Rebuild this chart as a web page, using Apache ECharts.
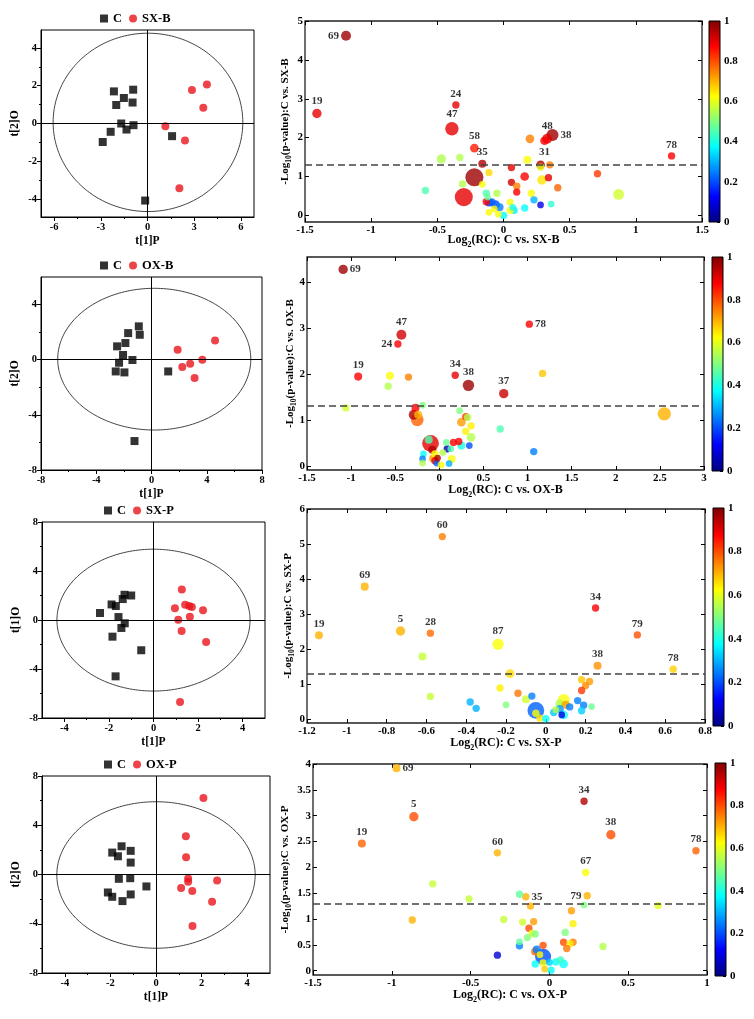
<!DOCTYPE html>
<html><head><meta charset="utf-8">
<script src="https://cdn.jsdelivr.net/npm/echarts@6/dist/echarts.min.js"></script>
<style>html,body{margin:0;padding:0;background:#fff}#c{width:754px;height:1019px}</style>
</head><body><div id="c"></div>
<script>
// ---------------- DATA ----------------
const groups = ['SX-B', 'OX-B', 'SX-P', 'OX-P'];
const scoreXName = 't[1]P';
const scoreYNames = ['t[2]O', 't[2]O', 't[1]O', 't[2]O'];

// OPLS-DA score plots: [t[1]P, t[2]O]
const scoreC1 = [[-2.16,1.7],[-0.92,1.79],[-1.52,1.35],[-2.01,0.98],[-0.96,1.11],[-1.69,0],[-1.35,-0.32],[-0.9,-0.09],[-2.37,-0.44],[-2.88,-0.98],[1.58,-0.67],[-0.15,-4.08]];
const scoreT1 = [[2.86,1.78],[3.82,2.06],[3.59,0.83],[1.15,-0.14],[2.41,-0.9],[2.05,-3.43]];
const scoreC2 = [[-0.92,2.42],[-0.85,1.81],[-1.69,1.93],[-1.89,1.21],[-2.49,0.97],[-2.06,0.34],[-1.38,-0.02],[-2.35,-0.22],[-2.59,-0.85],[-1.96,-0.92],[1.21,-0.85],[-1.23,-5.9]];
const scoreT2 = [[1.89,0.73],[4.6,1.4],[3.68,0],[2.8,-0.29],[2.23,-0.53],[3.12,-1.33]];
const scoreC3 = [[-1.3,2.06],[-1.0,2.0],[-1.38,1.71],[-1.88,1.27],[-1.69,1.14],[-2.4,0.57],[-1.57,0.24],[-1.29,-0.27],[-1.44,-0.65],[-1.84,-1.36],[-0.55,-2.47],[-1.7,-4.6]];
const scoreT3 = [[1.27,2.49],[1.42,1.25],[1.6,1.14],[1.72,1.06],[0.96,0.95],[2.22,0.79],[1.63,0.27],[1.11,0.03],[1.26,-0.89],[2.36,-1.79],[1.19,-6.69]];
const scoreC4 = [[-1.51,2.29],[-1.92,1.78],[-1.67,1.48],[-1.11,1.92],[-1.11,0.97],[-1.63,-0.35],[-1.13,-0.3],[-0.42,-0.97],[-2.11,-1.46],[-1.92,-1.81],[-1.11,-1.62],[-1.47,-2.16]];
const scoreT4 = [[2.08,6.21],[1.31,3.1],[1.32,1.4],[1.41,-0.32],[1.41,-0.59],[1.1,-1.1],[1.59,-1.35],[2.68,-0.49],[2.46,-2.21],[1.6,-4.18]];

// Hotelling T2 ellipses: [cx, cy, rx, ry]
const ellipse1 = [0.03, 0.06, 6.1, 4.72];
const ellipse2 = [0.2, 0.04, 6.99, 5.14];
const ellipse3 = [0.0, -0.01, 4.33, 5.79];
const ellipse4 = [0.0, -0.04, 4.35, 5.95];

const scoreXRange = [[-6.85,6.85],[-8,8],[-5,5],[-5,5]];
const scoreYRange = [[-4.95,4.95],[-8,6],[-8,8],[-8,8]];
const scoreXTicks = [[-6,-3,0,3,6],[-8,-4,0,4,8],[-4,-2,0,2,4],[-4,-2,0,2,4]];
const scoreXMinor = [[-4.5,-1.5,1.5,4.5],[-6,-2,2,6],[-3,-1,1,3],[-3,-1,1,3]];
const scoreYTicks = [[-4,-2,0,2,4],[-8,-4,0,4],[-8,-4,0,4,8],[-8,-4,0,4,8]];
const scoreYMinor = [[-3,-1,1,3],[-6,-2,2],[-6,-2,2,6],[-6,-2,2,6]];

// Volcano bubbles: [log2(RC), -log10(p), bubble weight, colour value (0-1), id]
const volc1 = [
 [-1.19,4.62,1.5,0.97,'69'],[-1.41,2.62,1.4,0.9,'19'],[-0.36,2.84,1.1,0.9,'24'],[-0.39,2.23,2.0,0.9,'47'],
 [-0.22,1.73,1.3,0.85,'58'],[-0.16,1.33,1.2,0.95,'35'],[0.33,1.97,1.5,0.9,'48'],[0.37,2.07,1.8,0.97,'38'],
 [0.31,1.92,1.3,0.88,'31'],[1.27,1.53,1.1,0.88,'78'],
 [0.2,1.97,1.3,0.75],[-0.47,1.45,1.4,0.55],[-0.33,1.49,1.1,0.55],[-0.22,0.98,2.7,0.97],[-0.3,0.47,2.7,0.9],
 [-0.31,0.81,1.1,0.55],[-0.59,0.64,1.1,0.45],[-0.11,1.1,1.1,0.66],[-0.16,0.8,1.0,0.62],[0.06,1.23,1.1,0.9],
 [0.06,0.85,1.1,0.92],[0.16,1.0,1.3,0.88],[0.18,1.43,1.2,0.62],[0.28,1.3,1.3,0.95],[0.28,1.24,1.1,0.6],
 [0.35,1.3,1.1,0.75],[0.34,0.97,1.1,0.9],[0.29,0.91,1.4,0.65],[0.41,0.71,1.1,0.78],[0.71,1.07,1.1,0.82],
 [0.87,0.54,1.6,0.58],[0.1,0.75,1.1,0.75],[0.1,0.6,1.1,0.88],[0.21,0.57,1.1,0.62],[0.23,0.4,1.1,0.3],
 [0.28,0.27,1.0,0.1],[0.36,0.29,1.0,0.42],[0.16,0.19,1.1,0.38],[0.08,0.13,1.1,0.36],[0.0,0.0,1.1,0.38],
 [-0.04,0.03,1.0,0.62],[-0.11,0.08,1.0,0.63],[-0.07,0.17,1.0,0.63],[-0.05,0.57,1.1,0.55],[-0.13,0.57,1.1,0.45],
 [-0.12,0.47,1.0,0.48],[-0.13,0.35,1.1,0.88],[-0.11,0.33,1.2,0.18],[-0.06,0.28,1.3,0.2],[-0.09,0.34,1.2,0.22],
 [-0.03,0.21,1.2,0.25],[0.05,0.13,1.1,0.62],[0.05,0.34,1.0,0.62],[0.07,0.21,1.0,0.4]
];
const volc2 = [
 [-1.09,4.27,1.4,0.97,'69'],[-0.43,2.85,1.5,0.92,'47'],[-0.47,2.65,1.1,0.88,'24'],[1.02,3.08,1.1,0.88,'78'],
 [-0.92,1.94,1.2,0.88,'19'],[0.18,1.97,1.1,0.9,'34'],[0.33,1.75,1.7,0.97,'38'],[0.73,1.57,1.4,0.93,'37'],
 [-0.56,1.96,1.2,0.62],[-0.35,1.93,1.1,0.75],[-0.58,1.73,1.1,0.55],[-1.06,1.26,1.1,0.58],[1.17,2.01,1.1,0.68],
 [2.55,1.13,2.0,0.7],[0.69,0.8,1.1,0.45],[1.07,0.31,1.1,0.25],[-0.19,1.32,1.0,0.5],[-0.27,1.26,1.2,0.88],
 [-0.29,1.11,1.5,0.95],[-0.25,1.0,1.9,0.78],[-0.24,1.11,1.2,0.7],[0.23,1.2,1.0,0.5],[0.3,1.07,1.1,0.82],
 [0.32,1.05,1.1,0.55],[0.25,0.95,1.3,0.72],[0.36,0.87,1.1,0.64],[0.3,0.75,1.1,0.64],[0.36,0.62,1.3,0.55],
 [0.22,0.53,1.1,0.88],[0.16,0.51,1.1,0.88],[0.08,0.51,1.0,0.48],[0.25,0.44,1.2,0.4],[0.34,0.44,1.0,0.2],
 [0.09,0.37,1.1,0.05],[0.13,0.37,1.0,0.45],[0.14,0.15,1.2,0.62],[0.11,0.05,1.0,0.3],[-0.1,0.49,2.5,0.9],
 [-0.12,0.57,1.2,0.45],[-0.08,0.35,1.2,0.95],[-0.18,0.26,1.0,0.38],[-0.19,0.15,1.0,0.25],[-0.19,0.06,1.0,0.55],
 [-0.07,0.16,1.2,0.72],[-0.05,0.26,1.1,0.62],[-0.05,0.11,1.1,0.88],[-0.03,0.06,1.0,0.22],[0.02,0.02,1.0,0.62],
 [-0.02,0.17,1.0,0.95],[0.04,0.29,1.0,0.55]
];
const volc3 = [
 [-0.52,5.21,1.1,0.75,'60'],[-0.91,3.78,1.2,0.7,'69'],[-1.14,2.39,1.2,0.7,'19'],[-0.73,2.51,1.4,0.7,'5'],
 [-0.58,2.45,1.1,0.77,'28'],[-0.24,2.13,1.7,0.62,'87'],[0.25,3.17,1.1,0.88,'34'],[0.46,2.4,1.1,0.8,'79'],
 [0.26,1.52,1.2,0.73,'38'],[0.64,1.42,1.1,0.67,'78'],
 [-0.62,1.78,1.2,0.57],[-0.18,1.29,1.3,0.66],[-0.58,0.64,1.1,0.57],[-0.23,0.88,1.1,0.64],[-0.14,0.73,1.1,0.76],
 [-0.07,0.65,1.1,0.25],[-0.1,0.56,1.2,0.58],[-0.2,0.4,1.0,0.5],[-0.38,0.48,1.1,0.3],[-0.35,0.3,1.1,0.3],
 [0.18,1.12,1.1,0.68],[0.22,1.07,1.1,0.72],[0.2,0.95,1.1,0.74],[0.18,0.81,1.1,0.82],[0.16,0.52,1.1,0.25],
 [0.19,0.39,1.1,0.25],[0.18,0.23,1.1,0.33],[0.23,0.35,1.0,0.48],[-0.05,0.24,2.5,0.22],[-0.05,0.16,1.1,0.62],
 [-0.03,0.02,1.1,0.65],[0.0,0.0,1.1,0.38],[0.09,0.54,1.8,0.62],[0.07,0.43,1.3,0.55],[0.1,0.4,1.2,0.72],
 [0.07,0.28,1.2,0.28],[0.04,0.18,1.1,0.32],[0.09,0.11,1.3,0.38],[0.12,0.34,1.1,0.25],[0.08,0.11,1.0,0.1],
 [0.05,0.26,1.0,0.55]
];
const volc4 = [
 [-0.97,3.92,1.2,0.7,'69'],[-0.86,2.98,1.4,0.8,'5'],[-1.19,2.46,1.2,0.78,'19'],[-0.33,2.28,1.1,0.7,'60'],
 [0.22,3.28,1.1,0.95,'34'],[0.39,2.63,1.4,0.8,'38'],[0.93,2.32,1.1,0.78,'78'],[0.23,1.9,1.1,0.62,'67'],
 [0.24,1.45,1.1,0.7,'79'],[-0.15,1.43,1.1,0.7,'35'],
 [-0.74,1.68,1.1,0.57],[-0.51,1.39,1.1,0.57],[-0.87,0.98,1.1,0.7],[-0.29,0.99,1.1,0.57],[-0.19,1.48,1.1,0.47],
 [-0.12,1.25,1.1,0.7],[0.69,1.26,1.1,0.6],[0.22,1.27,1.0,0.5],[0.14,1.16,1.1,0.72],[0.15,0.91,1.1,0.64],
 [-0.17,0.94,1.1,0.58],[-0.1,0.95,1.1,0.72],[-0.13,0.82,1.1,0.8],[-0.11,0.72,1.1,0.6],[-0.09,0.71,1.1,0.5],
 [-0.14,0.64,1.1,0.5],[-0.19,0.56,1.0,0.47],[-0.19,0.48,1.1,0.25],[-0.33,0.3,1.1,0.08],[0.1,0.74,1.1,0.5],
 [0.09,0.55,1.1,0.8],[0.15,0.55,1.1,0.75],[0.13,0.52,1.1,0.64],[0.11,0.43,1.1,0.76],[0.34,0.47,1.1,0.55],
 [-0.04,0.49,1.1,0.8],[-0.09,0.37,1.2,0.78],[-0.08,0.41,1.2,0.25],[-0.04,0.27,2.4,0.2],[-0.04,0.15,1.1,0.62],
 [-0.09,0.13,1.1,0.38],[-0.03,0.03,1.0,0.68],[0.01,0.01,1.1,0.38],[0.04,0.17,1.1,0.38],[0.09,0.13,1.3,0.38],
 [0.07,0.21,1.1,0.43],[0.0,0.16,1.0,0.33],[-0.06,0.31,1.0,0.62]
];
const labelSide1 = {'69':'left','38':'right','31':'bottom'};
const labelSide2 = {'69':'right','24':'left','78':'right'};
const labelSide3 = {};
const labelSide4 = {'69':'right','79':'left','35':'right'};

const volcXRange = [[-1.5,1.5],[-1.5,3],[-1.2,0.8],[-1.5,1]];
const volcYRange = [[-0.17,5],[-0.09,4.54],[-0.12,6],[-0.084,4]];
const volcXTicks = [[-1.5,-1,-0.5,0,0.5,1,1.5],[-1.5,-1,-0.5,0,0.5,1,1.5,2,2.5,3],[-1.2,-1,-0.8,-0.6,-0.4,-0.2,0,0.2,0.4,0.6,0.8],[-1.5,-1,-0.5,0,0.5,1]];
const volcYTicks = [[0,1,2,3,4,5],[0,1,2,3,4],[0,1,2,3,4,5,6],[0,0.5,1,1.5,2,2.5,3,3.5,4]];
const cbarTicks = [0,0.2,0.4,0.6,0.8,1];
const pThreshold = 1.301; // -log10(0.05)

// ---------------- LAYOUT / STYLE ----------------
const FONT = '"Liberation Serif","Times New Roman",serif';
const JET = ['#000080','#0000ff','#0080ff','#00ffff','#80ff80','#ffff00','#ff8000','#ff0000','#800000'];
const layout = [
 {score:[41,30,213,187], volc:[305,21,397,201], cbar:[709,21,11,201], legend:[100,12], vyGap:12, vxGap:9},
 {score:[41,277,221,193], volc:[307,257,397,213], cbar:[712,257,11,214], legend:[100,259], vyGap:9, vxGap:11},
 {score:[42,522,223,196], volc:[307,509,398,214], cbar:[713,508,11,218], legend:[104,504], vyGap:11, vxGap:11},
 {score:[42,776,228,197], volc:[313,764,394,211], cbar:[715,763,11,213], legend:[104,758], vyGap:20, vxGap:11}
];
const scores = [[scoreC1,scoreT1],[scoreC2,scoreT2],[scoreC3,scoreT3],[scoreC4,scoreT4]];
const ellipses = [ellipse1,ellipse2,ellipse3,ellipse4];
const volcs = [volc1,volc2,volc3,volc4];
const sides = [labelSide1,labelSide2,labelSide3,labelSide4];

const grid = [], xAxis = [], yAxis = [], series = [], visualMap = [], legend = [];
const lbl = (size, extra) => Object.assign({fontFamily: FONT, fontWeight: 'bold', fontSize: size, color: '#000'}, extra || {});
const subRichX = {
  n: {fontFamily: FONT, fontWeight: 'bold', fontSize: 12, color: '#000', lineHeight: 18},
  s: {fontFamily: FONT, fontWeight: 'bold', fontSize: 8, color: '#000', lineHeight: 10, verticalAlign: 'bottom'}
};
const subRichY = {
  n: {fontFamily: FONT, fontWeight: 'bold', fontSize: 11, color: '#000', lineHeight: 16},
  s: {fontFamily: FONT, fontWeight: 'bold', fontSize: 7.5, color: '#000', lineHeight: 9, verticalAlign: 'bottom'}
};

function addGrid(b, extra) {
  grid.push(Object.assign({left: b[0], top: b[1], width: b[2], height: b[3], containLabel: false}, extra || {}));
  return grid.length - 1;
}

for (let r = 0; r < 4; r++) {
  const L = layout[r], grp = groups[r];
  // ---------- score plot ----------
  const g = addGrid(L.score, {show: true, borderColor: '#000', borderWidth: 1, backgroundColor: 'transparent'});
  const xr = scoreXRange[r], yr = scoreYRange[r];
  xAxis.push({type: 'value', gridIndex: g, min: xr[0], max: xr[1], position: 'bottom',
    axisLine: {show: true, onZero: false, lineStyle: {color: '#000'}},
    axisTick: {show: true, customValues: scoreXTicks[r], length: 4, lineStyle: {color: '#000'}},
    axisLabel: Object.assign(lbl(10.5), {customValues: scoreXTicks[r], margin: 5}),
    splitLine: {show: false},
    name: scoreXName, nameLocation: 'middle', nameGap: 18, nameTextStyle: lbl(11.5)});
  const sx = xAxis.length - 1;
  xAxis.push({type: 'value', gridIndex: g, min: xr[0], max: xr[1], position: 'bottom',
    axisLine: {show: false, onZero: false},
    axisTick: {show: true, customValues: scoreXMinor[r], length: 2, lineStyle: {color: '#000'}},
    axisLabel: {show: false}, splitLine: {show: false}});
  yAxis.push({type: 'value', gridIndex: g, min: yr[0], max: yr[1], position: 'left',
    axisLine: {show: true, onZero: false, lineStyle: {color: '#000'}},
    axisTick: {show: true, customValues: scoreYTicks[r], length: 4, lineStyle: {color: '#000'}},
    axisLabel: Object.assign(lbl(10.5), {customValues: scoreYTicks[r], margin: 4}),
    splitLine: {show: false},
    name: scoreYNames[r], nameLocation: 'middle', nameGap: 20, nameTextStyle: lbl(11.5)});
  const sy = yAxis.length - 1;
  yAxis.push({type: 'value', gridIndex: g, min: yr[0], max: yr[1], position: 'left',
    axisLine: {show: false, onZero: false},
    axisTick: {show: true, customValues: scoreYMinor[r], length: 2, lineStyle: {color: '#000'}},
    axisLabel: {show: false}, splitLine: {show: false}});

  const e = ellipses[r], pts = [];
  for (let k = 0; k <= 200; k++) {
    const t = 2 * Math.PI * k / 200;
    pts.push([e[0] + e[2] * Math.cos(t), e[1] + e[3] * Math.sin(t)]);
  }
  series.push({type: 'line', name: 'ellipse' + r, xAxisIndex: sx, yAxisIndex: sy, data: pts, showSymbol: false,
    symbol: 'none', lineStyle: {color: '#444', width: 1}, silent: true, z: 1});
  series.push({type: 'scatter', name: 'C', xAxisIndex: sx, yAxisIndex: sy, data: scores[r][0], symbol: 'rect',
    symbolSize: 8, itemStyle: {color: '#000'}, z: 3,
    markLine: {silent: true, symbol: 'none', label: {show: false}, animation: false,
      lineStyle: {color: '#000', width: 1, type: 'solid'}, data: [{xAxis: 0}, {yAxis: 0}]}});
  series.push({type: 'scatter', name: grp, xAxisIndex: sx, yAxisIndex: sy, data: scores[r][1], symbol: 'circle',
    symbolSize: 8, itemStyle: {color: '#e8141b'}, z: 3});
  legend.push({left: L.legend[0], top: L.legend[1], itemWidth: 8, itemHeight: 8, itemGap: 7, selectedMode: false,
    textStyle: lbl(12.5), padding: 0,
    data: [{name: 'C', icon: 'rect'}, {name: grp, icon: 'circle'}]});

  // ---------- volcano plot ----------
  const vg = addGrid(L.volc, {show: true, borderColor: '#222', borderWidth: 1.3, backgroundColor: 'transparent'});
  const vxr = volcXRange[r], vyr = volcYRange[r];
  xAxis.push({type: 'value', gridIndex: vg, min: vxr[0], max: vxr[1], position: 'bottom',
    axisLine: {show: false, onZero: false},
    axisTick: {show: true, inside: true, customValues: volcXTicks[r], length: 4, lineStyle: {color: '#000'}},
    axisLabel: Object.assign(lbl(11), {customValues: volcXTicks[r], margin: 3}),
    splitLine: {show: false},
    name: '{n|Log}{s|2}{n|(RC): C vs. ' + grp + '}', nameLocation: 'middle', nameGap: L.vxGap,
    nameMoveOverlap: false, nameTextStyle: {rich: subRichX}});
  const vx = xAxis.length - 1;
  xAxis.push({type: 'value', gridIndex: vg, min: vxr[0], max: vxr[1], position: 'top',
    axisLine: {show: false, onZero: false},
    axisTick: {show: true, inside: true, customValues: volcXTicks[r], length: 4, lineStyle: {color: '#000'}},
    axisLabel: {show: false}, splitLine: {show: false}});
  yAxis.push({type: 'value', gridIndex: vg, min: vyr[0], max: vyr[1], position: 'left',
    axisLine: {show: false, onZero: false},
    axisTick: {show: true, inside: true, customValues: volcYTicks[r], length: 4, lineStyle: {color: '#000'}},
    axisLabel: Object.assign(lbl(11), {customValues: volcYTicks[r], margin: 2}),
    splitLine: {show: false},
    name: '{n|-Log}{s|10}{n|(p-value):C vs. ' + grp + '}', nameLocation: 'middle', nameGap: L.vyGap,
    nameMoveOverlap: false, nameTextStyle: {rich: subRichY}});
  const vy = yAxis.length - 1;
  yAxis.push({type: 'value', gridIndex: vg, min: vyr[0], max: vyr[1], position: 'right',
    axisLine: {show: false, onZero: false},
    axisTick: {show: true, inside: true, customValues: volcYTicks[r], length: 4, lineStyle: {color: '#000'}},
    axisLabel: {show: false}, splitLine: {show: false}});

  const side = sides[r];
  const items = volcs[r].slice().sort((a, b) => b[2] - a[2]).map(d => {
    const it = {value: [d[0], d[1], d[2], d[3]]};
    if (d[4]) {
      it.label = Object.assign(lbl(11), {show: true, position: side[d[4]] || 'top', distance: 2,
        formatter: d[4]});
    }
    return it;
  });
  series.push({type: 'scatter', name: 'volcano' + r, xAxisIndex: vx, yAxisIndex: vy, data: items,
    symbolSize: v => v[2] * 6.7, label: {show: false}, emphasis: {disabled: true}, z: 3,
    markLine: {silent: true, symbol: 'none', label: {show: false}, animation: false, z: 4,
      lineStyle: {color: '#444', width: 1.6, type: [7, 4]}, data: [{yAxis: pThreshold}]}});
  visualMap.push({type: 'continuous', show: false, seriesIndex: series.length - 1, dimension: 3,
    min: 0, max: 1, inRange: {color: JET}});

  // ---------- colour bar ----------
  const cg = addGrid(L.cbar, {show: true, borderColor: '#000', borderWidth: 1, backgroundColor: 'transparent', z: 5});
  xAxis.push({type: 'category', gridIndex: cg, data: ['bar'], show: false});
  const cx = xAxis.length - 1;
  yAxis.push({type: 'value', gridIndex: cg, min: 0, max: 1, position: 'right',
    axisLine: {show: false},
    axisTick: {show: true, inside: true, customValues: cbarTicks, length: 3, lineStyle: {color: '#000'}},
    axisLabel: Object.assign(lbl(11), {customValues: cbarTicks, margin: 4}),
    splitLine: {show: false}});
  const cy = yAxis.length - 1;
  series.push({type: 'bar', name: 'cbar' + r, xAxisIndex: cx, yAxisIndex: cy, data: [1], barWidth: '100%',
    silent: true, z: 1,
    itemStyle: {color: {type: 'linear', x: 0, y: 1, x2: 0, y2: 0,
      colorStops: JET.map((c, i) => ({offset: i / (JET.length - 1), color: c}))}}});
}

const chart = echarts.init(document.getElementById('c'), null, {renderer: 'canvas'});
chart.setOption({
  animation: false,
  backgroundColor: '#fff',
  grid, xAxis, yAxis, series, visualMap, legend
});
</script>
</body></html>
